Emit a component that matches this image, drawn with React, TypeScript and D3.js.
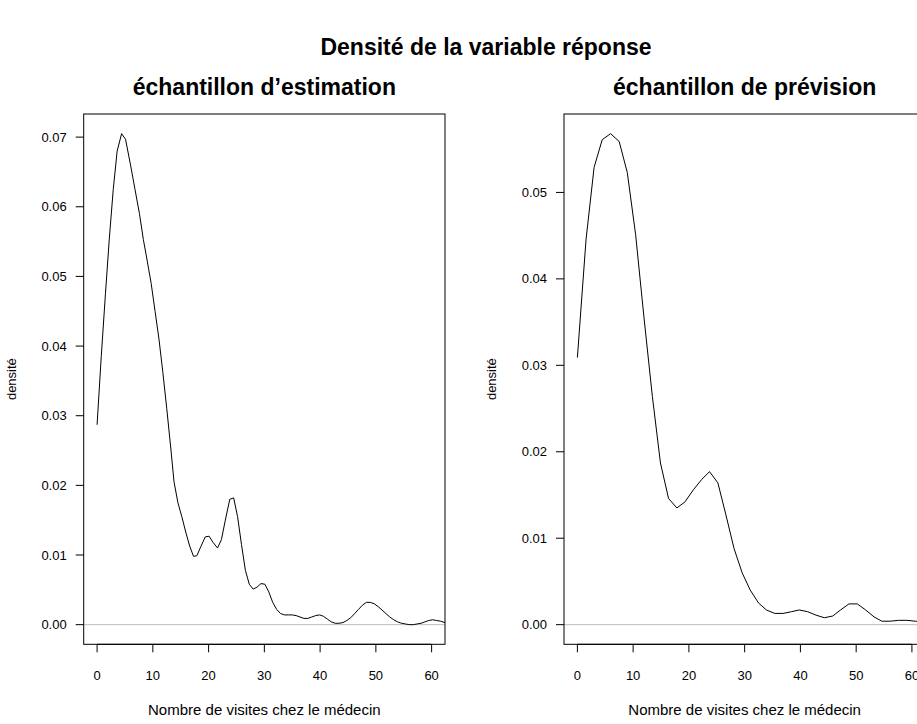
import React from "react";
import * as d3 from "d3";

const estX = [0, 0.75, 1.5, 2.2, 2.9, 3.6, 4.4, 5.1, 6.0, 6.8, 7.6, 8.3, 9.0, 9.7, 10.4, 11.1, 11.8, 12.5, 13.2, 13.8, 14.5, 15.2, 15.9, 16.6, 17.3, 17.9, 18.6, 19.4, 20.1, 20.8, 21.6, 22.3, 23.0, 23.8, 24.5, 25.2, 25.9, 26.6, 27.3, 28.0, 28.7, 29.4, 30.1, 30.8, 31.5, 32.2, 32.9, 33.6, 34.3, 35.0, 35.7, 36.4, 37.1, 37.8, 38.5, 39.2, 39.9, 40.6, 41.3, 42.0, 42.7, 43.4, 44.1, 44.8, 45.5, 46.2, 46.9, 47.6, 48.3, 49.0, 49.7, 50.4, 51.1, 51.8, 52.5, 53.2, 53.9, 54.6, 55.3, 56.0, 56.7, 57.4, 58.1, 58.8, 59.5, 60.2, 60.9, 61.6, 62.4, 63.0];
const estY = [0.0287, 0.0385, 0.0475, 0.0555, 0.0625, 0.068, 0.0705, 0.0697, 0.066, 0.0625, 0.059, 0.0553, 0.0522, 0.049, 0.045, 0.041, 0.0362, 0.031, 0.0255, 0.0205, 0.0175, 0.0155, 0.0133, 0.0113, 0.0098, 0.0099, 0.0112, 0.0126, 0.0127, 0.0118, 0.011, 0.0122, 0.015, 0.018, 0.0182, 0.0155, 0.0115, 0.0078, 0.0058, 0.0051, 0.0054, 0.0059, 0.0058, 0.0047, 0.0032, 0.0022, 0.0016, 0.0014, 0.0014, 0.0014, 0.0013, 0.0011, 0.0009, 0.0009, 0.0011, 0.0013, 0.0014, 0.0012, 0.0008, 0.0004, 0.0002, 0.0002, 0.0003, 0.0006, 0.001, 0.0016, 0.0022, 0.0028, 0.0032, 0.0032, 0.003, 0.0026, 0.0021, 0.0016, 0.0011, 0.0007, 0.0004, 0.0002, 0.0001, 0.0, 0.0, 0.0001, 0.0002, 0.0004, 0.0006, 0.0007, 0.0006, 0.0005, 0.0003, 0.0002];

const prevX = [0, 1.56, 3.0, 4.45, 5.95, 7.49, 8.95, 10.45, 11.95, 13.45, 14.9, 16.35, 17.85, 19.3, 20.8, 22.3, 23.7, 25.2, 26.6, 28.1, 29.55, 31.0, 32.5, 33.9, 35.4, 36.9, 38.4, 39.8, 41.3, 42.8, 44.3, 45.8, 47.2, 48.7, 50.2, 51.7, 53.2, 54.6, 56.1, 57.6, 59.1, 60.6, 62.0, 63.5];
const prevY = [0.0309, 0.0446, 0.0529, 0.0561, 0.0568, 0.0559, 0.0523, 0.0451, 0.0355, 0.0264, 0.0187, 0.0146, 0.0135, 0.0142, 0.0156, 0.0168, 0.0177, 0.0164, 0.0128, 0.0088, 0.006, 0.004, 0.0025, 0.0017, 0.0013, 0.0013, 0.0015, 0.0017, 0.0015, 0.0011, 0.0008, 0.001, 0.0017, 0.0024, 0.0024, 0.0017, 0.0009, 0.0004, 0.0004, 0.0005, 0.0005, 0.0004, 0.0003, 0.0002];

const xTicks = [0, 10, 20, 30, 40, 50, 60];
const estTicks = [0, 0.01, 0.02, 0.03, 0.04, 0.05, 0.06, 0.07];
const prevTicks = [0, 0.01, 0.02, 0.03, 0.04, 0.05];

const mainTitle = "Densité de la variable réponse";
const subTitles = ["échantillon d\u2019estimation", "échantillon de prévision"];
const xLabel = "Nombre de visites chez le médecin";
const yLabel = "densité";

const FONT = "'Liberation Sans', Arial, Helvetica, sans-serif";

type PanelProps = {
  idx: number;
  left: number;
  xs: number[];
  ys: number[];
  yTicks: number[];
  title: string;
};

function Panel({ idx, left, xs, ys, yTicks, title }: PanelProps) {
  const top = 114;
  const bottom = 644.3;
  const width = 361.3;
  const right = left + width;
  const xlim = [0, 60];
  const xr = xlim[1] - xlim[0];
  const x = d3.scaleLinear().domain([xlim[0] - 0.04 * xr, xlim[1] + 0.04 * xr]).range([left, right]);
  const ymax = d3.max(ys) as number;
  const y = d3.scaleLinear().domain([-0.04 * ymax, ymax * 1.04]).range([bottom, top]);
  const pts: [number, number][] = xs.map((v, i) => [v, ys[i]]);
  const line = d3.line<[number, number]>().x((d) => x(d[0])).y((d) => y(d[1]));
  const clipId = `clip${idx}`;
  const cx = (left + right) / 2;
  const cy = (top + bottom) / 2;
  return (
    <g>
      <defs>
        <clipPath id={clipId}>
          <rect x={left} y={top} width={width} height={bottom - top} />
        </clipPath>
      </defs>
      <text x={cx} y={95} textAnchor="middle" fontFamily={FONT} fontWeight="bold" fontSize={23}>
        {title}
      </text>
      <line x1={left} x2={right} y1={y(0)} y2={y(0)} stroke="#bebebe" strokeWidth={1} />
      <path d={line(pts) || ""} fill="none" stroke="#000" strokeWidth={1} clipPath={`url(#${clipId})`} />
      <rect x={left} y={top} width={width} height={bottom - top} fill="none" stroke="#000" strokeWidth={1} />
      {/* x axis */}
      <line x1={x(xTicks[0])} x2={x(xTicks[xTicks.length - 1])} y1={bottom} y2={bottom} stroke="#000" />
      {xTicks.map((t) => (
        <g key={`x${t}`}>
          <line x1={x(t)} x2={x(t)} y1={bottom} y2={bottom + 8} stroke="#000" />
          <text x={x(t)} y={680} textAnchor="middle" fontFamily={FONT} fontSize={13}>
            {t}
          </text>
        </g>
      ))}
      {/* y axis */}
      {yTicks.map((t) => (
        <g key={`y${t}`}>
          <line x1={left - 8} x2={left} y1={y(t)} y2={y(t)} stroke="#000" />
          <text x={left - 17} y={y(t)} dy="0.35em" textAnchor="end" fontFamily={FONT} fontSize={13}>
            {t.toFixed(2)}
          </text>
        </g>
      ))}
      <text x={cx} y={715} textAnchor="middle" fontFamily={FONT} fontSize={15}>
        {xLabel}
      </text>
      <text
        transform={`translate(${left - 68},${cy}) rotate(-90)`}
        textAnchor="middle"
        fontFamily={FONT}
        fontSize={13}
      >
        {yLabel}
      </text>
    </g>
  );
}

export default function App() {
  return (
    <svg width={917} height={724} style={{ display: "block", position: "absolute", left: 0, top: 0 }}>
      <rect x={0} y={0} width={917} height={724} fill="#fff" />
      <text x={486} y={55} textAnchor="middle" fontFamily={FONT} fontWeight="bold" fontSize={23}>
        {mainTitle}
      </text>
      <Panel idx={0} left={83.7} xs={estX} ys={estY} yTicks={estTicks} title={subTitles[0]} />
      <Panel idx={1} left={564} xs={prevX} ys={prevY} yTicks={prevTicks} title={subTitles[1]} />
    </svg>
  );
}
